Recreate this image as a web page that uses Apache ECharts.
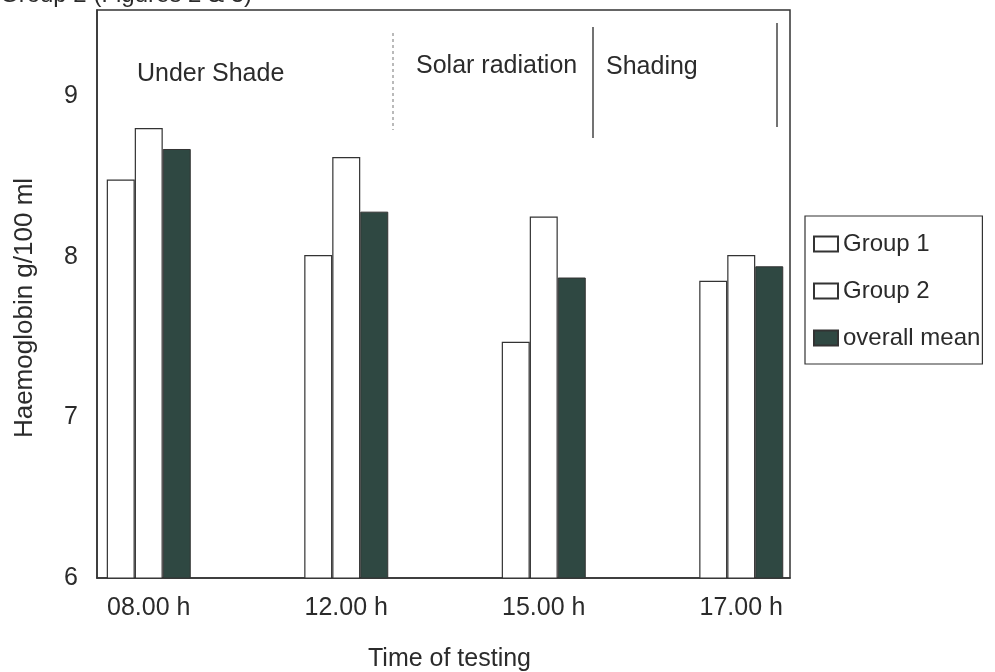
<!DOCTYPE html>
<html>
<head>
<meta charset="utf-8">
<script src="https://cdn.jsdelivr.net/npm/echarts@6/dist/echarts.min.js"></script>
<style>
html, body { margin: 0; padding: 0; background: #fff; }
#chart { width: 995px; height: 672px; }
</style>
</head>
<body>
<div id="chart"></div>
<script>
// haemoglobin values
var times = ['08.00 h', '12.00 h', '15.00 h', '17.00 h'];
var group1 = [8.48, 8.01, 7.47, 7.85];
var group2 = [8.80, 8.62, 8.25, 8.01];
var overallMean = [8.67, 8.28, 7.87, 7.94];
var yTicks = [6, 7, 8, 9];

var FONT = '"Liberation Sans", Arial, sans-serif';
var INK = '#2b2b2b';
var DARK = '#2f4842';

var chart = echarts.init(document.getElementById('chart'));

var option = {
    animation: false,
    backgroundColor: '#fff',
    textStyle: { fontFamily: FONT, color: INK },
    grid: [
        // frame of the plot
        { left: 97, right: 205, top: 10, bottom: 94, outerBoundsMode: 'none', show: true, borderColor: '#333', borderWidth: 1.5, backgroundColor: 'transparent' },
        // bars, wider band so the groups sit where they do in the figure
        { left: 50, right: 155, top: 10, bottom: 94, outerBoundsMode: 'none' }
    ],
    xAxis: [
        {
            gridIndex: 0, type: 'value', min: 0, max: 1,
            name: 'Time of testing', nameLocation: 'middle', nameGap: 69,
            nameTextStyle: { fontSize: 25, color: INK, fontFamily: FONT, padding: [0, 0, 0, 12] },
            axisLine: { show: true, lineStyle: { color: '#333', width: 1.5 } },
            axisTick: { show: false }, axisLabel: { show: false }, splitLine: { show: false }
        },
        {
            gridIndex: 1, type: 'category', data: times,
            axisLine: { show: false }, axisTick: { show: false }, splitLine: { show: false },
            axisLabel: { fontSize: 25, color: INK, fontFamily: FONT, margin: 18 }
        }
    ],
    yAxis: [
        {
            gridIndex: 0, type: 'value', min: yTicks[0], max: 9.535, interval: 1,
            name: 'Haemoglobin g/100 ml', nameLocation: 'middle', nameGap: 59,
            nameTextStyle: { fontSize: 26, color: INK, fontFamily: FONT, padding: [0, 0, 0, -28] },
            axisLine: { show: true, lineStyle: { color: '#333', width: 1.5 } },
            axisTick: { show: false }, splitLine: { show: false },
            axisLabel: {
                fontSize: 25, color: INK, fontFamily: FONT, margin: 19,
                formatter: function (v) { return yTicks.indexOf(v) >= 0 ? String(v) : ''; }
            }
        },
        { gridIndex: 1, type: 'value', min: yTicks[0], max: 9.535, show: false }
    ],
    legend: {
        orient: 'vertical', left: 805, top: 216,
        padding: [16, 2, 14, 8],
        borderColor: '#333', borderWidth: 1.2, borderRadius: 0,
        itemWidth: 24, itemHeight: 15, itemGap: 23, icon: 'rect',
        textStyle: { fontSize: 24, color: INK, fontFamily: FONT, lineHeight: 24 },
        data: ['Group 1', 'Group 2', 'overall mean']
    },
    series: [
        {
            name: 'Group 1', type: 'bar', xAxisIndex: 1, yAxisIndex: 1,
            data: group1, barWidth: 28, barGap: '0%',
            itemStyle: { color: '#fff', borderColor: '#333', borderWidth: 1.2 }
        },
        {
            name: 'Group 2', type: 'bar', xAxisIndex: 1, yAxisIndex: 1,
            data: group2, barWidth: 28, barGap: '0%',
            itemStyle: { color: '#fff', borderColor: '#333', borderWidth: 1.2 }
        },
        {
            name: 'overall mean', type: 'bar', xAxisIndex: 1, yAxisIndex: 1,
            data: overallMean, barWidth: 28, barGap: '0%',
            itemStyle: { color: DARK, borderColor: '#333', borderWidth: 1 }
        }
    ],
    graphic: [
        // caption of the figure, cut off by the top of the scan
        { type: 'text', left: 0, top: -17, style: { text: 'Group 2 (Figures 2 & 3)', font: '24px ' + FONT, fill: INK } },
        { type: 'text', x: 137, y: 74, style: { text: 'Under Shade', font: '25px ' + FONT, fill: INK, verticalAlign: 'middle' } },
        { type: 'text', x: 416, y: 66, style: { text: 'Solar radiation', font: '25px ' + FONT, fill: INK, verticalAlign: 'middle' } },
        { type: 'text', x: 606, y: 67, style: { text: 'Shading', font: '25px ' + FONT, fill: INK, verticalAlign: 'middle' } },
        { type: 'line', shape: { x1: 393, y1: 33, x2: 393, y2: 130 }, style: { stroke: '#777', lineWidth: 1, lineDash: [3, 3] } },
        { type: 'line', shape: { x1: 593, y1: 27, x2: 593, y2: 138 }, style: { stroke: '#444', lineWidth: 1.5 } },
        { type: 'line', shape: { x1: 777, y1: 23, x2: 777, y2: 127 }, style: { stroke: '#444', lineWidth: 1.5 } }
    ]
};

chart.setOption(option);
</script>
</body>
</html>
